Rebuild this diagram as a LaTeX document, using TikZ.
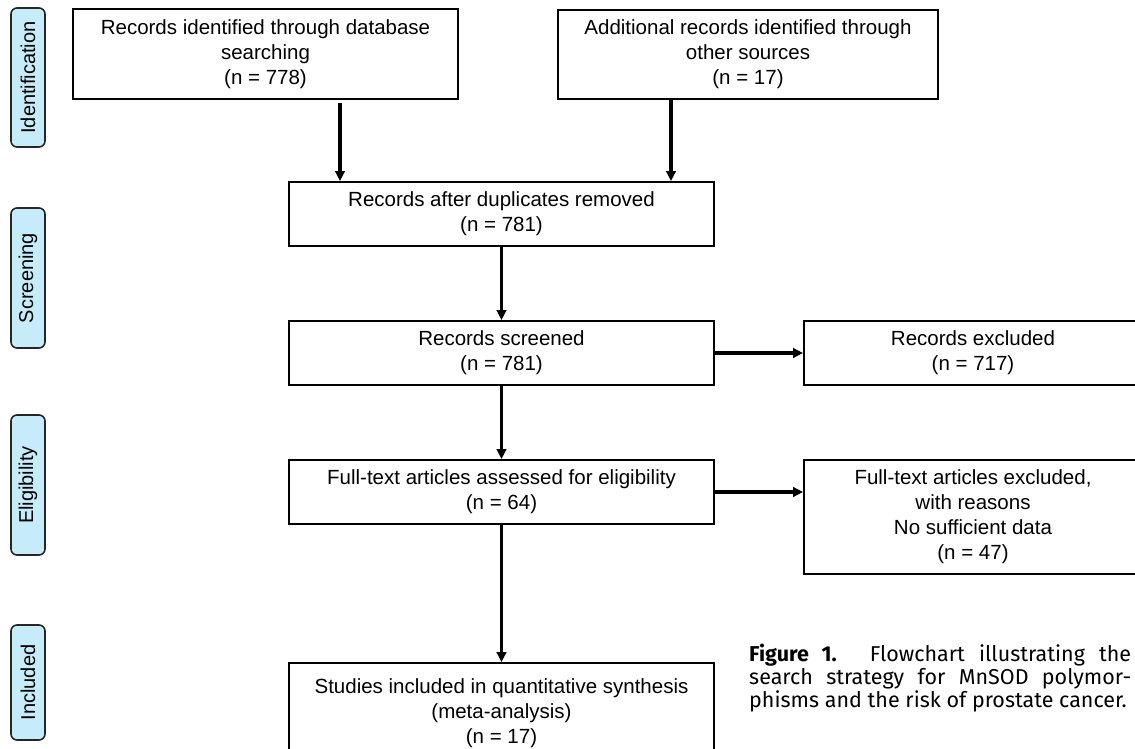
\documentclass[tikz,border=0pt]{standalone}
\usepackage{fontspec}
\setmainfont{Liberation Sans}
\newfontfamily\capfont{Fira Sans}
\usetikzlibrary{arrows.meta,calc}
\definecolor{stagefill}{HTML}{C6ECFA}
\tikzset{
  box/.style={draw=black, line width=1.9pt, fill=white, inner sep=0pt, align=center,
    font=\fontsize{20.5}{25}\selectfont, anchor=center},
  stage/.style={draw=black!85, line width=1.6pt, fill=stagefill, rounded corners=6pt,
    inner sep=0pt, anchor=center},
  stagetext/.style={rotate=90, font=\fontsize{20}{24}\selectfont},
  arr/.style={line width=3.2pt, -{Triangle[length=10pt,width=9.5pt]}},
}
\begin{document}
\begin{tikzpicture}[x=1pt,y=-1pt]
\useasboundingbox (0,0) rectangle (1135,749);
\clip (0,0) rectangle (1135,749);
% stage labels
\node[stage, minimum width=34pt, minimum height=139pt] (s1) at (28,77.5) {};
\node[stagetext] (s1t) at (s1.center) {Identification};
\node[stage, minimum width=34pt, minimum height=140pt] (s2) at (28,278) {};
\node[stagetext] (s2t) at (s2.center) {Screening};
\node[stage, minimum width=34pt, minimum height=140pt] (s3) at (28,485) {};
\node[stagetext] (s3t) at (s3.center) {Eligibility};
\node[stage, minimum width=34pt, minimum height=115pt] (s4) at (28,682.5) {};
\node[stagetext] (s4t) at (s4.center) {Included};
% boxes
\node[box, minimum width=385pt, minimum height=90pt] (b1) at (265.5,54) {Records identified through database\\searching\\(n = 778)};
\node[box, minimum width=380pt, minimum height=89pt] (b2) at (748,54.5) {Additional records identified through\\other sources\\(n = 17)};
\node[box, minimum width=425pt, minimum height=64pt] (b3) at (501.5,214) {Records after duplicates removed\\(n = 781)};
\node[box, minimum width=425pt, minimum height=64pt] (b4) at (501.5,353) {Records screened\\(n = 781)};
\node[box, minimum width=338pt, minimum height=64pt] (b5) at (973,353) {Records excluded\\(n = 717)};
\node[box, minimum width=425pt, minimum height=64pt] (b6) at (501.5,492) {Full-text articles assessed for eligibility\\(n = 64)};
\node[box, minimum width=338pt, minimum height=114pt] (b7) at (973,517) {Full-text articles excluded,\\with reasons\\No sufficient data\\(n = 47)};
\node[box, minimum width=425pt, minimum height=100pt] (b8) at (501.5,713) {Studies included in quantitative synthesis\\(meta-analysis)\\(n = 17)};
% arrows
\coordinate (c1) at (340,0);
\coordinate (c2) at (671,0);
\draw[arr] ($(b1.south -| c1)+(0,3)$) -- (b3.north -| c1);
\draw[arr] (b2.south -| c2) -- (b3.north -| c2);
\draw[arr] (b3.south) -- (b4.north);
\draw[arr] (b4.east) -- (b5.west);
\draw[arr] (b6.east) -- (b6.east -| b7.west);
\draw[arr] (b4.south) -- (b6.north);
\draw[arr] (b6.south) -- (b8.north);
% caption
\node[anchor=north west, inner sep=0pt, text width=382pt, align=justify,
  font=\capfont\fontsize{21.5}{23}\selectfont] (cap) at (749,644)
  {\textbf{Figure 1.} Flowchart illustrating the\linebreak search strategy for MnSOD polymor-\linebreak phisms and the risk of prostate cancer.};
\end{tikzpicture}
\end{document}
